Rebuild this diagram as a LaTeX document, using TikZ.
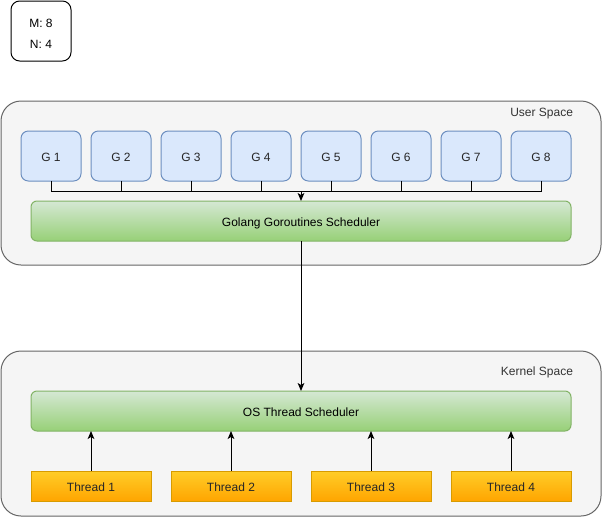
\documentclass[tikz,border=0pt]{standalone}
\usepackage{fontspec}
\setmainfont{Liberation Sans}
\usetikzlibrary{arrows.meta}
\definecolor{spacefill}{HTML}{F5F5F5}
\definecolor{spacedraw}{HTML}{666666}
\definecolor{spacetext}{HTML}{333333}
\definecolor{gfill}{HTML}{DAE8FC}
\definecolor{gdraw}{HTML}{6C8EBF}
\definecolor{greentop}{HTML}{D5E8D4}
\definecolor{greenbot}{HTML}{97D077}
\definecolor{greendraw}{HTML}{82B366}
\definecolor{orangetop}{HTML}{FFCD28}
\definecolor{orangebot}{HTML}{FFA500}
\definecolor{orangedraw}{HTML}{D79B00}
\tikzset{
  px/.style={x=0.75pt,y=-0.75pt},
  every node/.style={font=\fontsize{9pt}{11pt}\selectfont, inner sep=0pt, outer sep=0pt},
  onetext/.style={text height=8pt, text depth=0pt},
  spacebox/.style={draw=spacedraw, fill=spacefill, line width=0.75pt, rounded corners=15pt},
  gbox/.style={onetext, draw=gdraw, fill=gfill, line width=0.75pt, rounded corners=5.5pt, minimum width=45pt, minimum height=37.5pt, text=black!85},
  schedbox/.style={onetext, draw=greendraw, top color=greentop, bottom color=greenbot, line width=0.75pt, rounded corners=4.5pt, minimum width=405pt, minimum height=30pt},
  threadbox/.style={onetext, draw=orangedraw, top color=orangetop, bottom color=orangebot, line width=0.75pt, minimum width=90pt, minimum height=22.5pt, text=black!85},
  mnbox/.style={draw=black, fill=white, line width=0.75pt, rounded corners=6.5pt, minimum width=45pt, minimum height=45pt, align=center},
  conn/.style={draw=black, line width=0.75pt},
  arr/.style={conn, -{Stealth[length=6pt,width=5pt,inset=1.5pt]}},
  spacelabel/.style={onetext, anchor=east, text=spacetext}
}
\begin{document}
\begin{tikzpicture}[px]
\useasboundingbox (0,0) rectangle (603,518);
% M/N box
\draw[mnbox] (11,1) rectangle (71,61);
\node[align=center] (mn) at (41,33.5) {M: 8\\[4.5pt]N: 4};
% containers
\draw[spacebox] (1,101) rectangle (601,265);
\node (user) [spacelabel] at (573,111) {User Space};
\draw[spacebox] (1,351) rectangle (601,516);
\node (kernel) [spacelabel] at (573,370.5) {Kernel Space};
% G nodes
\foreach \i in {1,...,8} {
  \node[gbox] (g\i) at ({51+70*(\i-1)},156) {G \i};
}
% schedulers
\node[schedbox] (gsched) at (301,221) {Golang Goroutines Scheduler};
\node[schedbox] (osched) at (301,411) {OS Thread Scheduler};
% bus
\coordinate (bus) at (301,191);
\foreach \i in {1,...,8} {
  \draw[conn] (g\i.south) |- (bus);
}
\draw[arr] (bus) -- (gsched.north);
\draw[arr] (gsched.south) -- (osched.north);
% threads
\foreach \i in {1,...,4} {
  \node[threadbox] (t\i) at ({91+140*(\i-1)},486) {Thread \i};
  \draw[arr] (t\i.north) -- (t\i.north |- osched.south);
}
\end{tikzpicture}
\end{document}
